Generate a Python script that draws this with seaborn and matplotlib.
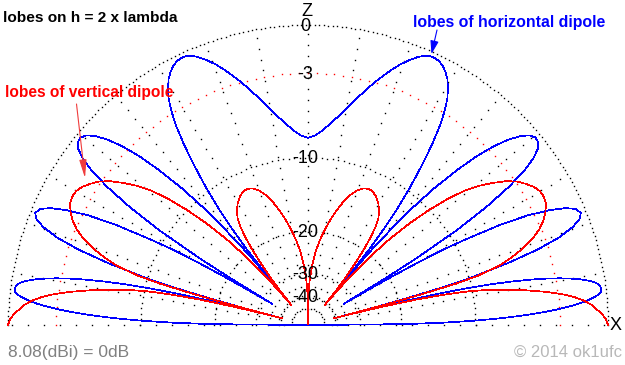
import numpy as np
import pandas as pd
import matplotlib
matplotlib.use("Agg")
import matplotlib.pyplot as plt
import seaborn as sns

# ---------------- data (right half, elevation angle in degrees -> level in dB) -------------
blue_angle = [0, 0.5, 1, 1.5, 2, 2.5, 3, 3.5, 4, 4.5, 5, 5.5, 6, 6.5, 7, 7.5, 8, 8.5, 9, 9.5,
              10, 10.5, 11, 11.5, 12, 12.5, 13, 13.5, 14, 14.3, 14.5,
              14.8, 15.1, 15.6, 16.1, 17.2, 18.2, 19.2, 20.3, 21.3, 22.3, 23.4, 24.4, 25.4,
              26.5, 27.5, 28.5, 29.1, 29.6, 30.1, 30.35, 30.6,
              31.1, 31.6, 32.5, 33.5, 34.5, 35.5, 36.5, 37.5, 38.5, 39.5, 40.6, 41.7, 42.8,
              43.9, 45.0, 46.1, 47.3, 48.5, 49.6, 50.0, 50.3,
              50.6, 51.0, 51.7, 52.5, 53.5, 54.5, 55.5, 56.5, 57.5, 58.5, 59.5, 60.5, 61.5,
              62.5, 63.5, 64.5, 65.5, 66.5, 67.5, 69, 70.5, 72, 74, 76, 78, 80, 82, 84, 86, 88, 90]
blue_db = [-99, -19.5, -13.5, -10.0, -7.6, -5.8, -4.4, -3.3, -2.4, -1.7, -1.15, -0.75, -0.45, -0.3,
           -0.25, -0.3, -0.4, -0.6, -0.95, -1.4, -2.0, -2.7, -3.6, -4.7, -6.1, -7.9, -10.3, -13.8,
           -19.8, -27, -40,
           -26, -19.3, -13.6, -10.2, -6.2, -3.7, -2.1, -1.05, -0.5, -0.3, -0.45, -1.0, -1.95,
           -3.4, -5.5, -8.8, -11.2, -14.7, -20.7, -26.5, -34,
           -20.7, -14.8, -9.1, -5.8, -3.6, -2.1, -1.15, -0.6, -0.35, -0.3, -0.5, -0.95, -1.65,
           -2.6, -3.9, -5.7, -8.2, -11.7, -17.6, -22, -34,
           -25, -19.5, -15.3, -12.2, -9.5, -7.3, -5.4, -3.9, -2.8, -2.0, -1.45, -1.0, -0.7,
           -0.47, -0.32, -0.26, -0.27, -0.38, -0.55, -0.95, -1.4, -1.95, -2.75, -3.6, -4.5,
           -5.35, -6.15, -6.85, -7.45, -7.9, -8.1]

red_angle = [0, 1, 2, 3, 4, 5, 6, 7, 8, 9, 10, 11, 11.8, 12.5, 13.2, 13.8, 14.2, 14.4,
             14.8, 15.2, 15.6, 16.2, 17.2, 18.3, 19.5, 21, 22.5, 24, 25.5, 27, 28.5, 30, 31.5,
             33, 34.5, 36, 37.5, 39, 40.5, 42, 43.5, 45, 46.5, 47.5, 48.5, 49.4, 50.2,
             50.8, 51.5, 52.5, 53.5, 54.5, 55.5, 56.5, 58, 60, 62, 64, 66, 68, 70, 72, 74, 76,
             78, 80, 82, 84, 86, 88, 89, 90]
red_db = [0, -0.1, -0.3, -0.6, -0.9, -1.35, -1.95, -2.8, -3.9, -5.2, -6.7, -8.4, -10.2, -12.8,
          -16.8, -23, -32, -42,
          -22, -15.5, -11.5, -9.0, -7.0, -5.8, -4.8, -3.8, -3.1, -2.6, -2.25, -2.0, -1.9, -1.95,
          -2.15, -2.5, -2.9, -3.5, -4.3, -5.2, -6.3, -7.9, -10.0, -12.6, -16.0, -19.5, -24,
          -31, -42,
          -33, -28, -23.5, -20.0, -17.5, -15.8, -14.7, -13.8, -13.0, -12.45, -12.1, -12.0,
          -12.2, -12.7, -13.5, -14.6, -16.0, -17.6, -19.4, -21.5, -24, -27.5, -33, -38, -99]

ring_levels = [0, -3, -10, -20, -30, -40]
ring_labels = ["0", "-3", "-10", "-20", "-30", "-40"]

title_text = "lobes on h = 2 x lambda"
vert_text = "lobes of vertical dipole"
horiz_text = "lobes of horizontal dipole"
ref_text = "8.08(dBi) = 0dB"
copy_text = "\u00a9 2014 ok1ufc"

# ---------------- helpers ----------------
def db_to_r(db):
    # ARRL style log-periodic radial scale: 2 dB -> factor 0.89
    return np.power(0.89, -np.asarray(db, dtype=float) / 2.0)


def r_to_db(r):
    r = np.maximum(np.asarray(r, dtype=float), 1e-300)
    return -2.0 * np.log(r) / np.log(0.89)


def mirrored(angle, values):
    a = np.asarray(angle, dtype=float)
    v = np.asarray(values, dtype=float)
    full_a = np.concatenate([a, 180.0 - a[::-1][1:]])
    full_v = np.concatenate([v, v[::-1][1:]])
    return full_a, full_v


sns.set_theme(style="white")
plt.rcParams["font.family"] = ["Liberation Sans", "DejaVu Sans"]
plt.rcParams["lines.antialiased"] = False

W, H = 625, 365
CX, CY, R0 = 308, 325, 300

fig = plt.figure(figsize=(W / 100, H / 100), dpi=100)
fig.patch.set_facecolor("white")

# grid layer (pixel coordinates)
gax = fig.add_axes([0, 0, 1, 1], zorder=0)
gax.set_xlim(0, W)
gax.set_ylim(H, 0)
gax.axis("off")

dot_kw = dict(ls="none", marker="s", ms=1.0, mew=0, antialiased=True)
for lev in ring_levels:
    rp = R0 * float(db_to_r(lev))
    spacing = 8.7 if lev == -3 else (4.5 if lev == 0 else 5.5)
    n = max(int(np.pi * rp / spacing), 4)
    t = np.linspace(0, np.pi, n + 1)
    gax.plot(CX + rp * np.cos(t), CY - rp * np.sin(t),
             color="red" if lev == -3 else "black", **dot_kw)
for a in range(0, 181, 10):
    step = 16 if a in (0, 180) else 11
    rr = np.arange(step * 1.5, R0, step)
    ar = np.deg2rad(a)
    gax.plot(CX + rr * np.cos(ar), CY - rr * np.sin(ar), color="black", **dot_kw)

# polar layer with the lobes
pax = fig.add_axes([(CX - R0) / W, (H - CY - R0) / H, 2 * R0 / W, 2 * R0 / H],
                   projection="polar", zorder=1)
pax.set_rscale("function", functions=(db_to_r, r_to_db))
pax.set_rlim(-300, 0)

ba, bv = mirrored(blue_angle, blue_db)
ra, rv = mirrored(red_angle, red_db)
df_blue = pd.DataFrame({"theta": np.deg2rad(ba), "level": bv})
df_red = pd.DataFrame({"theta": np.deg2rad(ra), "level": rv})

sns.lineplot(data=df_blue, x="theta", y="level", sort=False, estimator=None,
             color="#0000ff", linewidth=0.5, ax=pax, clip_on=False)
sns.lineplot(data=df_red, x="theta", y="level", sort=False, estimator=None,
             color="#ff0000", linewidth=0.5, ax=pax, clip_on=False)
for ln in pax.lines:
    ln.set_antialiased(False)
    ln.set_solid_joinstyle("miter")
pax.set_rlim(-300, 0)
pax.axis("off")

# text layer
tax = fig.add_axes([0, 0, 1, 1], zorder=2)
tax.set_xlim(0, W)
tax.set_ylim(H, 0)
tax.axis("off")
tax.patch.set_alpha(0)

for lev, lab in zip(ring_levels, ring_labels):
    y = CY - R0 * float(db_to_r(lev)) + 1.5
    tax.text(305, y, lab, fontsize=13, ha="center", va="center", color="black")
tax.text(307, 11, "Z", fontsize=13, ha="center", va="center", color="black")
tax.text(616, 325, "X", fontsize=13, ha="center", va="center", color="black")

tax.text(3, 18, title_text, fontsize=11.1, fontweight="bold", ha="left", va="center",
         color="black")
tax.text(5, 92, vert_text, fontsize=11.2, fontweight="bold", ha="left", va="center",
         color="#ff0000")
tax.text(413, 22, horiz_text, fontsize=11.4, fontweight="bold", ha="left", va="center",
         color="#0000ff")
tax.text(8, 352, ref_text, fontsize=12.5, ha="left", va="center", color="#808080")
tax.text(622, 352, copy_text, fontsize=12, ha="right", va="center", color="#b8b8b8")

tax.annotate("", xy=(85, 178), xytext=(76.5, 104),
             arrowprops=dict(arrowstyle="-|>,head_length=1.1,head_width=0.22",
                             color="#f03c3c", lw=0.8, shrinkA=0, shrinkB=0,
                             mutation_scale=10))
tax.annotate("", xy=(431.5, 54), xytext=(437, 30),
             arrowprops=dict(arrowstyle="-|>,head_length=0.8,head_width=0.25",
                             color="#0000ff", lw=0.8, shrinkA=0, shrinkB=0,
                             mutation_scale=10))

fig.savefig("out.png", dpi=100, facecolor="white")
